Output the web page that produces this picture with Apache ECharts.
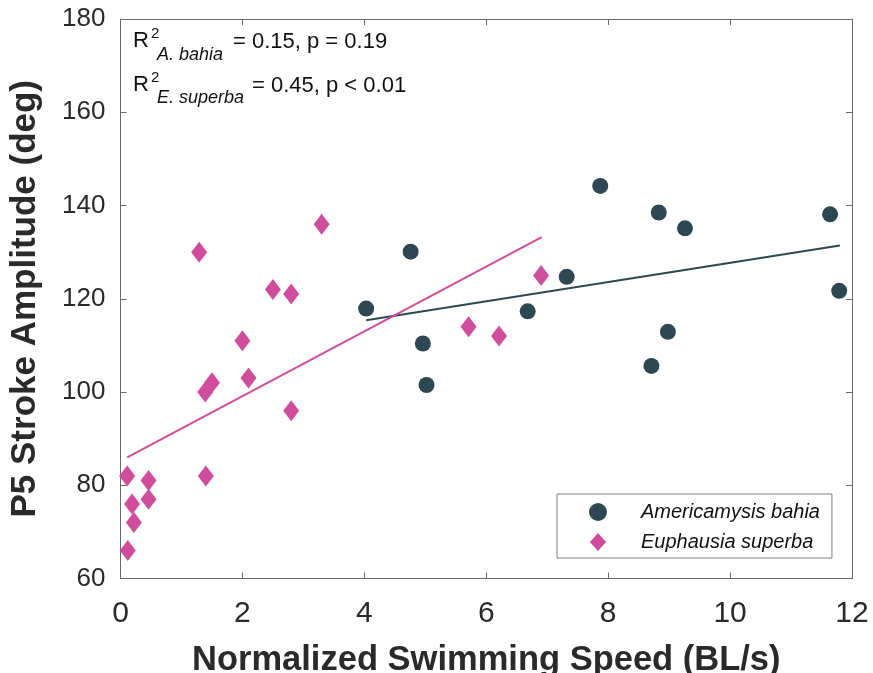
<!DOCTYPE html>
<html>
<head>
<meta charset="utf-8">
<title>P5 Stroke Amplitude vs Normalized Swimming Speed</title>
<script src="https://cdn.jsdelivr.net/npm/echarts@6/dist/echarts.min.js"></script>
<style>
  html, body { margin: 0; padding: 0; background: #ffffff; }
  #chart { width: 873px; height: 673px; }
</style>
</head>
<body>
<div id="chart"></div>
<script>
// Americamysis bahia: speed (BL/s) and P5 stroke amplitude (deg)
const bahiaSpeed = [4.03, 4.76, 4.96, 5.02, 6.68, 7.32, 7.87, 8.83, 9.26, 8.98, 8.71, 11.64, 11.79];
const bahiaAmp   = [117.9, 130.1, 110.4, 101.5, 117.3, 124.7, 144.2, 138.5, 135.1, 112.9, 105.6, 138.1, 121.7];

// Euphausia superba: speed (BL/s) and P5 stroke amplitude (deg)
const superbaSpeed = [1.29, 3.30, 2.50, 2.80, 2.00, 2.10, 1.39, 1.50, 2.80, 5.71, 6.21, 6.90, 0.11, 0.46, 1.40, 0.19, 0.46, 0.22, 0.12];
const superbaAmp   = [130, 136, 122, 121, 111, 103, 100, 102, 96, 114, 112, 125, 82, 81, 82, 76, 77, 72, 66];

// Linear fit end points for each species
const bahiaFitX = [4.03, 11.8];
const bahiaFitY = [115.4, 131.4];
const superbaFitX = [0.11, 6.91];
const superbaFitY = [86.0, 133.2];

// Axis ranges and tick steps
const xTicks = [0, 2, 4, 6, 8, 10, 12];
const yTicks = [60, 80, 100, 120, 140, 160, 180];

const seriesNames = ['Americamysis bahia', 'Euphausia superba'];
const fitStats = [
  { sub: 'A. bahia', text: '= 0.15, p = 0.19' },
  { sub: 'E. superba', text: '= 0.45, p < 0.01' }
];

const bahiaColor = '#2e4853';
const superbaColor = '#cf4d9c';
const axisColor = '#6a6a6a';
const font = '"Liberation Sans", Arial, Helvetica, sans-serif';

const zip = (xs, ys) => xs.map((x, i) => [x, ys[i]]);

const circleIcon = 'path://M8,0 A8,8 0 1,1 8,16 A8,8 0 1,1 8,0 Z';
const diamondIcon = 'path://M9,0 L18,10 L9,20 L0,10 Z';

const chart = echarts.init(document.getElementById('chart'), null, { renderer: 'canvas' });

const baseX = {
  type: 'value',
  min: xTicks[0],
  max: xTicks[xTicks.length - 1],
  interval: xTicks[1] - xTicks[0],
  splitLine: { show: false },
  axisLine: { show: true, onZero: false, lineStyle: { color: axisColor, width: 1 } },
  axisTick: { show: true, inside: true, length: 6, lineStyle: { color: axisColor } }
};
const baseY = {
  type: 'value',
  min: yTicks[0],
  max: yTicks[yTicks.length - 1],
  interval: yTicks[1] - yTicks[0],
  splitLine: { show: false },
  axisLine: { show: true, onZero: false, lineStyle: { color: axisColor, width: 1 } },
  axisTick: { show: true, inside: true, length: 6, lineStyle: { color: axisColor } }
};

// Annotation block with R² and p-values for each fit
const statGraphics = [];
const rowY = [41, 85];
const eqX = [233, 252];
const subY = [55, 98];
fitStats.forEach((s, i) => {
  statGraphics.push(
    { type: 'text', x: 133, y: rowY[i], style: { text: 'R', font: '22px ' + font, fill: '#111', verticalAlign: 'middle' } },
    { type: 'text', x: 151, y: rowY[i] - 7, style: { text: '2', font: '15px ' + font, fill: '#111', verticalAlign: 'middle' } },
    { type: 'text', x: 157, y: subY[i], style: { text: s.sub, font: 'italic 18px ' + font, fill: '#111', verticalAlign: 'middle' } },
    { type: 'text', x: eqX[i], y: rowY[i] + 1, style: { text: s.text, font: '22px ' + font, fill: '#111', verticalAlign: 'middle' } }
  );
});

const option = {
  backgroundColor: '#ffffff',
  animation: false,
  grid: { left: 120.5, right: 21, top: 19, bottom: 94.5, containLabel: false, outerBoundsMode: 'none' },
  xAxis: [
    Object.assign({}, baseX, {
      position: 'bottom',
      name: 'Normalized Swimming Speed (BL/s)',
      nameLocation: 'middle',
      nameGap: 64,
      nameTextStyle: { fontFamily: font, fontWeight: 'bold', fontSize: 34.5, color: '#2a2a2a' },
      axisLabel: { fontFamily: font, fontSize: 30, color: '#2a2a2a', margin: 20 }
    }),
    Object.assign({}, baseX, { position: 'top', axisLabel: { show: false } })
  ],
  yAxis: [
    Object.assign({}, baseY, {
      position: 'left',
      name: 'P5 Stroke Amplitude (deg)',
      nameLocation: 'middle',
      nameGap: 78,
      nameTextStyle: { fontFamily: font, fontWeight: 'bold', fontSize: 35, color: '#2a2a2a' },
      axisLabel: { fontFamily: font, fontSize: 26, color: '#2a2a2a', margin: 15 }
    }),
    Object.assign({}, baseY, { position: 'right', axisLabel: { show: false } })
  ],
  legend: {
    orient: 'vertical',
    left: 557,
    top: 494,
    padding: [8, 12, 6, 32],
    itemGap: 10,
    itemWidth: 20,
    itemHeight: 18,
    symbolKeepAspect: true,
    borderColor: '#808080',
    borderWidth: 1,
    borderRadius: 0,
    backgroundColor: '#ffffff',
    formatter: '{t|{name}}',
    textStyle: {
      fontFamily: font, fontStyle: 'italic', fontSize: 20, color: '#111',
      rich: { t: { fontFamily: font, fontStyle: 'italic', fontSize: 20, color: '#111', padding: [0, 0, 0, 28] } }
    },
    data: [
      { name: seriesNames[0], icon: circleIcon },
      { name: seriesNames[1], icon: diamondIcon }
    ]
  },
  graphic: statGraphics,
  series: [
    {
      name: 'bahia fit',
      type: 'line',
      data: zip(bahiaFitX, bahiaFitY),
      symbol: 'none',
      lineStyle: { color: bahiaColor, width: 2 },
      itemStyle: { color: bahiaColor },
      z: 1
    },
    {
      name: 'superba fit',
      type: 'line',
      data: zip(superbaFitX, superbaFitY),
      symbol: 'none',
      lineStyle: { color: superbaColor, width: 2 },
      itemStyle: { color: superbaColor },
      z: 1
    },
    {
      name: seriesNames[0],
      type: 'scatter',
      data: zip(bahiaSpeed, bahiaAmp),
      symbol: 'circle',
      symbolSize: 16,
      itemStyle: { color: bahiaColor, opacity: 1 },
      z: 3
    },
    {
      name: seriesNames[1],
      type: 'scatter',
      data: zip(superbaSpeed, superbaAmp),
      symbol: 'diamond',
      symbolSize: [16, 21],
      itemStyle: { color: superbaColor, opacity: 1 },
      z: 3
    }
  ]
};

chart.setOption(option);
</script>
</body>
</html>
